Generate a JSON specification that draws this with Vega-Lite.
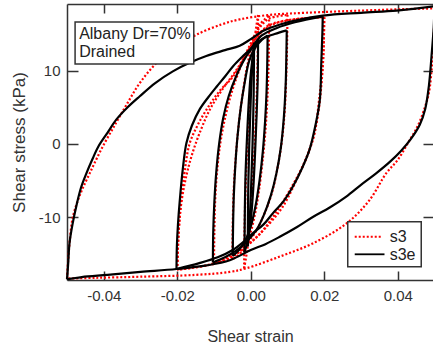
{
  "$schema": "https://vega.github.io/schema/vega-lite/v6.json",
  "width": 366,
  "height": 276,
  "autosize": {"type": "none"},
  "padding": {"left": 67, "top": 4, "right": 0, "bottom": 67},
  "config": {
    "view": {"stroke": null},
    "locale": {"number": {"decimal": ".", "thousands": ",", "grouping": [3], "currency": ["$", ""], "minus": "-"}},
    "axis": {
      "grid": false,
      "domainColor": "#333",
      "domainWidth": 1.5,
      "tickColor": "#333",
      "tickWidth": 1.5,
      "labelFont": "Liberation Sans",
      "labelFontSize": 15,
      "labelColor": "#333",
      "titleFont": "Liberation Sans",
      "titleFontWeight": "normal",
      "titleColor": "#333"
    },
    "text": {"font": "Liberation Sans"}
  },
  "datasets": {
    "s3e": [
      {"l":"b50u","i":0,"x":-0.05,"y":-18.5},{"l":"b50u","i":1,"x":-0.0497,"y":-16.5},{"l":"b50u","i":2,"x":-0.0493,"y":-13.5},{"l":"b50u","i":3,"x":-0.0485,"y":-11},{"l":"b50u","i":4,"x":-0.0475,"y":-8.6},{"l":"b50u","i":5,"x":-0.0462,"y":-6},{"l":"b50u","i":6,"x":-0.0447,"y":-4},{"l":"b50u","i":7,"x":-0.043,"y":-2},{"l":"b50u","i":8,"x":-0.0415,"y":-0.4},{"l":"b50u","i":9,"x":-0.039,"y":1.5},{"l":"b50u","i":10,"x":-0.0366,"y":3.3},{"l":"b50u","i":11,"x":-0.0335,"y":5},{"l":"b50u","i":12,"x":-0.0302,"y":6.5},{"l":"b50u","i":13,"x":-0.026,"y":8.3},{"l":"b50u","i":14,"x":-0.0212,"y":9.9},{"l":"b50u","i":15,"x":-0.0165,"y":11.1},{"l":"b50u","i":16,"x":-0.0121,"y":12},{"l":"b50u","i":17,"x":-0.007,"y":12.8},{"l":"b50u","i":18,"x":-0.003,"y":13.4},{"l":"b50u","i":19,"x":0,"y":14.3},{"l":"b50u","i":20,"x":0.0033,"y":15.4},{"l":"b50u","i":21,"x":0.008,"y":16.3},{"l":"b50u","i":22,"x":0.0196,"y":17.5},{"l":"b50u","i":23,"x":0.03,"y":17.9},{"l":"b50u","i":24,"x":0.0397,"y":18.2},{"l":"b50u","i":25,"x":0.0487,"y":18.7},{"l":"b50u","i":26,"x":0.05,"y":18.8},
      {"l":"b50d","i":26,"x":0.05,"y":18.8},{"l":"b50d","i":27,"x":0.0498,"y":16},{"l":"b50d","i":28,"x":0.0492,"y":12},{"l":"b50d","i":29,"x":0.0485,"y":8},{"l":"b50d","i":30,"x":0.0475,"y":4.8},{"l":"b50d","i":31,"x":0.046,"y":2.6},{"l":"b50d","i":32,"x":0.0435,"y":0.6},{"l":"b50d","i":33,"x":0.041,"y":-0.9},{"l":"b50d","i":34,"x":0.038,"y":-2.4},{"l":"b50d","i":35,"x":0.0342,"y":-4},{"l":"b50d","i":36,"x":0.03,"y":-5.6},{"l":"b50d","i":37,"x":0.026,"y":-7.2},{"l":"b50d","i":38,"x":0.0215,"y":-8.7},{"l":"b50d","i":39,"x":0.0169,"y":-10},{"l":"b50d","i":40,"x":0.0125,"y":-11.4},{"l":"b50d","i":41,"x":0.0079,"y":-12.7},{"l":"b50d","i":42,"x":0.004,"y":-13.7},{"l":"b50d","i":43,"x":0,"y":-14.5},{"l":"b50d","i":44,"x":-0.0057,"y":-15.9},{"l":"b50d","i":45,"x":-0.012,"y":-16.6},{"l":"b50d","i":46,"x":-0.0202,"y":-17.1},{"l":"b50d","i":47,"x":-0.03,"y":-17.5},{"l":"b50d","i":48,"x":-0.039,"y":-17.9},{"l":"b50d","i":49,"x":-0.046,"y":-18.2},{"l":"b50d","i":50,"x":-0.05,"y":-18.5},
      {"l":"b20u","i":0,"x":-0.0202,"y":-17.1},{"l":"b20u","i":1,"x":-0.0201,"y":-14},{"l":"b20u","i":2,"x":-0.0198,"y":-11},{"l":"b20u","i":3,"x":-0.0193,"y":-7.7},{"l":"b20u","i":4,"x":-0.0185,"y":-3.5},{"l":"b20u","i":5,"x":-0.0175,"y":0.1},{"l":"b20u","i":6,"x":-0.016,"y":2.5},{"l":"b20u","i":7,"x":-0.0139,"y":4.7},{"l":"b20u","i":8,"x":-0.0115,"y":6.4},{"l":"b20u","i":9,"x":-0.0093,"y":7.8},{"l":"b20u","i":10,"x":-0.007,"y":9.2},{"l":"b20u","i":11,"x":-0.0048,"y":10.6},{"l":"b20u","i":12,"x":-0.0025,"y":11.8},{"l":"b20u","i":13,"x":0,"y":13},{"l":"b20u","i":14,"x":0.003,"y":14.8},{"l":"b20u","i":15,"x":0.007,"y":15.8},{"l":"b20u","i":16,"x":0.012,"y":16.6},{"l":"b20u","i":17,"x":0.0196,"y":17.4},
      {"l":"b20d","i":17,"x":0.0196,"y":17.4},{"l":"b20d","i":18,"x":0.0195,"y":15.2},{"l":"b20d","i":19,"x":0.0192,"y":11},{"l":"b20d","i":20,"x":0.0188,"y":6},{"l":"b20d","i":21,"x":0.0176,"y":2.5},{"l":"b20d","i":22,"x":0.016,"y":-0.8},{"l":"b20d","i":23,"x":0.014,"y":-3.3},{"l":"b20d","i":24,"x":0.0115,"y":-5.8},{"l":"b20d","i":25,"x":0.009,"y":-7.8},{"l":"b20d","i":26,"x":0.006,"y":-9.5},{"l":"b20d","i":27,"x":0.0035,"y":-11},{"l":"b20d","i":28,"x":0.0006,"y":-12.2},{"l":"b20d","i":29,"x":-0.002,"y":-13.4},{"l":"b20d","i":30,"x":-0.0049,"y":-14.5},{"l":"b20d","i":31,"x":-0.009,"y":-15.5},{"l":"b20d","i":32,"x":-0.014,"y":-16.3},{"l":"b20d","i":33,"x":-0.0202,"y":-17.1},
      {"l":"b10u","i":0,"x":-0.0103,"y":-16.2},{"l":"b10u","i":1,"x":-0.0102,"y":-12},{"l":"b10u","i":2,"x":-0.0099,"y":-8},{"l":"b10u","i":3,"x":-0.0094,"y":-4},{"l":"b10u","i":4,"x":-0.0086,"y":0},{"l":"b10u","i":5,"x":-0.0075,"y":3.5},{"l":"b10u","i":6,"x":-0.006,"y":6.5},{"l":"b10u","i":7,"x":-0.004,"y":9.2},{"l":"b10u","i":8,"x":-0.002,"y":11.3},{"l":"b10u","i":9,"x":0,"y":12.8},{"l":"b10u","i":10,"x":0.003,"y":14.3},{"l":"b10u","i":11,"x":0.0065,"y":15},{"l":"b10u","i":12,"x":0.0098,"y":15.5},
      {"l":"b10d","i":12,"x":0.0098,"y":15.5},{"l":"b10d","i":13,"x":0.0097,"y":12},{"l":"b10d","i":14,"x":0.0095,"y":8},{"l":"b10d","i":15,"x":0.009,"y":3.5},{"l":"b10d","i":16,"x":0.0082,"y":-0.5},{"l":"b10d","i":17,"x":0.007,"y":-4},{"l":"b10d","i":18,"x":0.0055,"y":-7},{"l":"b10d","i":19,"x":0.0035,"y":-9.8},{"l":"b10d","i":20,"x":0.0015,"y":-11.8},{"l":"b10d","i":21,"x":-0.001,"y":-13.3},{"l":"b10d","i":22,"x":-0.004,"y":-14.6},{"l":"b10d","i":23,"x":-0.007,"y":-15.5},{"l":"b10d","i":24,"x":-0.0103,"y":-16.2},
      {"l":"b5u","i":0,"x":-0.0049,"y":-15.3},{"l":"b5u","i":1,"x":-0.0048,"y":-11},{"l":"b5u","i":2,"x":-0.0046,"y":-7},{"l":"b5u","i":3,"x":-0.0042,"y":-3},{"l":"b5u","i":4,"x":-0.0036,"y":1},{"l":"b5u","i":5,"x":-0.0027,"y":5},{"l":"b5u","i":6,"x":-0.0016,"y":8.5},{"l":"b5u","i":7,"x":-0.0005,"y":11.2},{"l":"b5u","i":8,"x":0.001,"y":13},{"l":"b5u","i":9,"x":0.003,"y":14.2},{"l":"b5u","i":10,"x":0.0046,"y":14.8},
      {"l":"b5d","i":10,"x":0.0046,"y":14.8},{"l":"b5d","i":11,"x":0.0045,"y":11},{"l":"b5d","i":12,"x":0.0043,"y":7},{"l":"b5d","i":13,"x":0.0039,"y":3},{"l":"b5d","i":14,"x":0.0033,"y":-1},{"l":"b5d","i":15,"x":0.0024,"y":-5},{"l":"b5d","i":16,"x":0.0013,"y":-8.5},{"l":"b5d","i":17,"x":0,"y":-11.3},{"l":"b5d","i":18,"x":-0.0015,"y":-13.2},{"l":"b5d","i":19,"x":-0.0032,"y":-14.5},{"l":"b5d","i":20,"x":-0.0049,"y":-15.3},
      {"l":"b2u","i":0,"x":-0.0017,"y":-14.8},{"l":"b2u","i":1,"x":-0.0016,"y":-9},{"l":"b2u","i":2,"x":-0.0014,"y":-4},{"l":"b2u","i":3,"x":-0.001,"y":1},{"l":"b2u","i":4,"x":-0.0005,"y":6},{"l":"b2u","i":5,"x":0,"y":9.5},{"l":"b2u","i":6,"x":0.0008,"y":12.5},{"l":"b2u","i":7,"x":0.002,"y":14.3},
      {"l":"b2d","i":7,"x":0.002,"y":14.3},{"l":"b2d","i":8,"x":0.0019,"y":9},{"l":"b2d","i":9,"x":0.0016,"y":4},{"l":"b2d","i":10,"x":0.0012,"y":-1},{"l":"b2d","i":11,"x":0.0007,"y":-6},{"l":"b2d","i":12,"x":0.0001,"y":-10},{"l":"b2d","i":13,"x":-0.0007,"y":-13},{"l":"b2d","i":14,"x":-0.0017,"y":-14.8},
      {"l":"b1u","i":0,"x":-0.0008,"y":-14},{"l":"b1u","i":1,"x":-0.0007,"y":-7},{"l":"b1u","i":2,"x":-0.0004,"y":0},{"l":"b1u","i":3,"x":0,"y":6},{"l":"b1u","i":4,"x":0.0004,"y":10.5},{"l":"b1u","i":5,"x":0.0009,"y":13.8},
      {"l":"b1d","i":5,"x":0.0009,"y":13.8},{"l":"b1d","i":6,"x":0.0008,"y":7},{"l":"b1d","i":7,"x":0.0005,"y":0},{"l":"b1d","i":8,"x":0.0001,"y":-6},{"l":"b1d","i":9,"x":-0.0003,"y":-10.5},{"l":"b1d","i":10,"x":-0.0008,"y":-14}
    ],
    "s3": [
      {"l":"r50u","i":0,"x":-0.05,"y":-18.4},{"l":"r50u","i":1,"x":-0.0497,"y":-16},{"l":"r50u","i":2,"x":-0.0492,"y":-13},{"l":"r50u","i":3,"x":-0.0484,"y":-10},{"l":"r50u","i":4,"x":-0.0465,"y":-7},{"l":"r50u","i":5,"x":-0.0438,"y":-4},{"l":"r50u","i":6,"x":-0.0403,"y":-0.4},{"l":"r50u","i":7,"x":-0.0366,"y":2.9},{"l":"r50u","i":8,"x":-0.0335,"y":5.6},{"l":"r50u","i":9,"x":-0.0302,"y":8.3},{"l":"r50u","i":10,"x":-0.0257,"y":11},{"l":"r50u","i":11,"x":-0.02,"y":13.2},{"l":"r50u","i":12,"x":-0.0148,"y":14.9},{"l":"r50u","i":13,"x":-0.008,"y":16.3},{"l":"r50u","i":14,"x":-0.003,"y":17},{"l":"r50u","i":15,"x":0.005,"y":17.6},{"l":"r50u","i":16,"x":0.015,"y":17.9},{"l":"r50u","i":17,"x":0.03,"y":18.2},{"l":"r50u","i":18,"x":0.042,"y":18.4},{"l":"r50u","i":19,"x":0.05,"y":18.5},
      {"l":"r50d","i":19,"x":0.05,"y":18.5},{"l":"r50d","i":20,"x":0.0499,"y":16},{"l":"r50d","i":21,"x":0.0496,"y":13},{"l":"r50d","i":22,"x":0.0492,"y":10},{"l":"r50d","i":23,"x":0.0485,"y":7},{"l":"r50d","i":24,"x":0.0474,"y":5},{"l":"r50d","i":25,"x":0.0455,"y":2.5},{"l":"r50d","i":26,"x":0.043,"y":0.3},{"l":"r50d","i":27,"x":0.04,"y":-2.2},{"l":"r50d","i":28,"x":0.0369,"y":-4},{"l":"r50d","i":29,"x":0.0323,"y":-7.7},{"l":"r50d","i":30,"x":0.026,"y":-10.9},{"l":"r50d","i":31,"x":0.0169,"y":-13.6},{"l":"r50d","i":32,"x":0.0079,"y":-15.4},{"l":"r50d","i":33,"x":-0.0012,"y":-17},{"l":"r50d","i":34,"x":-0.0057,"y":-17.5},{"l":"r50d","i":35,"x":-0.015,"y":-17.9},{"l":"r50d","i":36,"x":-0.03,"y":-18.15},{"l":"r50d","i":37,"x":-0.042,"y":-18.3},{"l":"r50d","i":38,"x":-0.05,"y":-18.4},
      {"l":"r20u","i":0,"x":-0.02,"y":-17.2},{"l":"r20u","i":1,"x":-0.0198,"y":-14},{"l":"r20u","i":2,"x":-0.0194,"y":-10.5},{"l":"r20u","i":3,"x":-0.0189,"y":-7.7},{"l":"r20u","i":4,"x":-0.0178,"y":-3.1},{"l":"r20u","i":5,"x":-0.0166,"y":0.1},{"l":"r20u","i":6,"x":-0.0145,"y":2.5},{"l":"r20u","i":7,"x":-0.012,"y":4.7},{"l":"r20u","i":8,"x":-0.0085,"y":7.2},{"l":"r20u","i":9,"x":-0.0048,"y":9.2},{"l":"r20u","i":10,"x":-0.002,"y":11.5},{"l":"r20u","i":11,"x":0.0006,"y":13.8},{"l":"r20u","i":12,"x":0.0043,"y":16},{"l":"r20u","i":13,"x":0.01,"y":16.9},{"l":"r20u","i":14,"x":0.02,"y":17.3},
      {"l":"r20d","i":14,"x":0.02,"y":17.3},{"l":"r20d","i":15,"x":0.0199,"y":14},{"l":"r20d","i":16,"x":0.0196,"y":10.6},{"l":"r20d","i":17,"x":0.0186,"y":6},{"l":"r20d","i":18,"x":0.0174,"y":1.5},{"l":"r20d","i":19,"x":0.0155,"y":-1.5},{"l":"r20d","i":20,"x":0.0133,"y":-4},{"l":"r20d","i":21,"x":0.0087,"y":-8.6},{"l":"r20d","i":22,"x":0.004,"y":-11.5},{"l":"r20d","i":23,"x":0.0006,"y":-13.2},{"l":"r20d","i":24,"x":-0.0049,"y":-15.4},{"l":"r20d","i":25,"x":-0.01,"y":-16.4},{"l":"r20d","i":26,"x":-0.02,"y":-17.2},
      {"l":"r21u","i":0,"x":-0.02,"y":-17.2},{"l":"r21u","i":1,"x":-0.0196,"y":-12},{"l":"r21u","i":2,"x":-0.019,"y":-8.5},{"l":"r21u","i":3,"x":-0.0178,"y":-5},{"l":"r21u","i":4,"x":-0.016,"y":-1.5},{"l":"r21u","i":5,"x":-0.0135,"y":2},{"l":"r21u","i":6,"x":-0.011,"y":4.8},{"l":"r21u","i":7,"x":-0.0075,"y":7.6},{"l":"r21u","i":8,"x":-0.004,"y":10},{"l":"r21u","i":9,"x":-0.001,"y":12.5},{"l":"r21u","i":10,"x":0.002,"y":14.8},{"l":"r21u","i":11,"x":0.006,"y":16.3},{"l":"r21u","i":12,"x":0.012,"y":17},{"l":"r21u","i":13,"x":0.02,"y":17.3},
      {"l":"r21d","i":13,"x":0.02,"y":17.3},{"l":"r21d","i":14,"x":0.0198,"y":13},{"l":"r21d","i":15,"x":0.0193,"y":8.5},{"l":"r21d","i":16,"x":0.0183,"y":4},{"l":"r21d","i":17,"x":0.0165,"y":0},{"l":"r21d","i":18,"x":0.014,"y":-3.2},{"l":"r21d","i":19,"x":0.011,"y":-6},{"l":"r21d","i":20,"x":0.007,"y":-9.3},{"l":"r21d","i":21,"x":0.003,"y":-12},{"l":"r21d","i":22,"x":-0.001,"y":-13.9},{"l":"r21d","i":23,"x":-0.006,"y":-15.6},{"l":"r21d","i":24,"x":-0.012,"y":-16.6},{"l":"r21d","i":25,"x":-0.02,"y":-17.2},
      {"l":"r10u","i":0,"x":-0.01,"y":-16.3},{"l":"r10u","i":1,"x":-0.0099,"y":-12},{"l":"r10u","i":2,"x":-0.0097,"y":-8},{"l":"r10u","i":3,"x":-0.0092,"y":-4},{"l":"r10u","i":4,"x":-0.0083,"y":0},{"l":"r10u","i":5,"x":-0.007,"y":3.5},{"l":"r10u","i":6,"x":-0.0052,"y":7},{"l":"r10u","i":7,"x":-0.003,"y":10.2},{"l":"r10u","i":8,"x":-0.0005,"y":13.2},{"l":"r10u","i":9,"x":0.002,"y":15.6},{"l":"r10u","i":10,"x":0.005,"y":17.1},{"l":"r10u","i":11,"x":0.01,"y":17.6},
      {"l":"r10d","i":11,"x":0.01,"y":17.6},{"l":"r10d","i":12,"x":0.0099,"y":14},{"l":"r10d","i":13,"x":0.0097,"y":10},{"l":"r10d","i":14,"x":0.0093,"y":5},{"l":"r10d","i":15,"x":0.0086,"y":1},{"l":"r10d","i":16,"x":0.0074,"y":-3},{"l":"r10d","i":17,"x":0.0057,"y":-6.8},{"l":"r10d","i":18,"x":0.0035,"y":-9.8},{"l":"r10d","i":19,"x":0.001,"y":-12.3},{"l":"r10d","i":20,"x":-0.002,"y":-14},{"l":"r10d","i":21,"x":-0.006,"y":-15.4},{"l":"r10d","i":22,"x":-0.01,"y":-16.3},
      {"l":"r5u","i":0,"x":-0.005,"y":-15.8},{"l":"r5u","i":1,"x":-0.0049,"y":-11},{"l":"r5u","i":2,"x":-0.0046,"y":-6},{"l":"r5u","i":3,"x":-0.0041,"y":-2},{"l":"r5u","i":4,"x":-0.0033,"y":2.5},{"l":"r5u","i":5,"x":-0.0022,"y":6.8},{"l":"r5u","i":6,"x":-0.001,"y":10.5},{"l":"r5u","i":7,"x":0.0005,"y":13.8},{"l":"r5u","i":8,"x":0.0025,"y":16.3},{"l":"r5u","i":9,"x":0.005,"y":17.5},
      {"l":"r5d","i":9,"x":0.005,"y":17.5},{"l":"r5d","i":10,"x":0.0049,"y":12},{"l":"r5d","i":11,"x":0.0046,"y":7},{"l":"r5d","i":12,"x":0.0041,"y":2.5},{"l":"r5d","i":13,"x":0.0033,"y":-2},{"l":"r5d","i":14,"x":0.0022,"y":-6.5},{"l":"r5d","i":15,"x":0.001,"y":-10},{"l":"r5d","i":16,"x":-0.0005,"y":-12.8},{"l":"r5d","i":17,"x":-0.0025,"y":-14.8},{"l":"r5d","i":18,"x":-0.005,"y":-15.8},
      {"l":"r2u","i":0,"x":-0.0018,"y":-17},{"l":"r2u","i":1,"x":-0.0017,"y":-12},{"l":"r2u","i":2,"x":-0.0014,"y":-6},{"l":"r2u","i":3,"x":-0.001,"y":-1},{"l":"r2u","i":4,"x":-0.0004,"y":5},{"l":"r2u","i":5,"x":0.0003,"y":10},{"l":"r2u","i":6,"x":0.0011,"y":14.5},{"l":"r2u","i":7,"x":0.002,"y":17.6},
      {"l":"r2d","i":7,"x":0.002,"y":17.6},{"l":"r2d","i":8,"x":0.0019,"y":12},{"l":"r2d","i":9,"x":0.0016,"y":6},{"l":"r2d","i":10,"x":0.0012,"y":1},{"l":"r2d","i":11,"x":0.0006,"y":-5},{"l":"r2d","i":12,"x":-0.0001,"y":-10},{"l":"r2d","i":13,"x":-0.0009,"y":-14.3},{"l":"r2d","i":14,"x":-0.0018,"y":-17}
    ]
  },
  "layer": [
    {
      "data": {"name": "s3"},
      "mark": {"type": "line", "color": "#ff0000", "strokeWidth": 2.2, "strokeDash": [2, 2], "interpolate": "catmull-rom"},
      "encoding": {
        "x": {"field": "x", "type": "quantitative", "scale": {"domain": [-0.05, 0.0496], "nice": false, "zero": false},
              "axis": {"orient": "top", "values": [-0.04, -0.02, 0, 0.02, 0.04], "labels": false, "title": null, "tickSize": -9, "domain": true}},
        "y": {"field": "y", "type": "quantitative", "scale": {"domain": [-18.6, 19.1], "nice": false, "zero": false},
              "axis": {"orient": "right", "values": [-10, 0, 10], "labels": false, "title": null, "tickSize": -10, "domain": false}},
        "detail": {"field": "l"},
        "order": {"field": "i", "type": "quantitative"}
      }
    },
    {
      "data": {"name": "s3e"},
      "mark": {"type": "line", "color": "#000000", "strokeWidth": 2.2, "interpolate": "catmull-rom"},
      "encoding": {
        "x": {"field": "x", "type": "quantitative", "scale": {"domain": [-0.05, 0.0496], "nice": false, "zero": false},
              "axis": {"orient": "bottom", "values": [-0.04, -0.02, 0, 0.02, 0.04], "format": ".2f", "title": "Shear strain", "titleFontSize": 16, "titlePadding": 25, "tickSize": -9, "labelPadding": 17, "domain": true}},
        "y": {"field": "y", "type": "quantitative", "scale": {"domain": [-18.6, 19.1], "nice": false, "zero": false},
              "axis": {"orient": "left", "values": [-10, 0, 10], "title": "Shear stress (kPa)", "titleFontSize": 17, "titlePadding": 10, "tickSize": -11, "labelPadding": 18, "domain": true}},
        "detail": {"field": "l"},
        "order": {"field": "i", "type": "quantitative"}
      }
    },
    {
      "data": {"values": [{"x1": -0.0478, "x2": -0.0155, "y1": 10.9, "y2": 16.64}]},
      "mark": {"type": "rect", "fill": "white", "stroke": "#333", "strokeWidth": 1.5},
      "encoding": {
        "x": {"field": "x1", "type": "quantitative", "scale": {"domain": [-0.05, 0.0496], "nice": false, "zero": false}, "axis": null},
        "x2": {"field": "x2"},
        "y": {"field": "y1", "type": "quantitative", "scale": {"domain": [-18.6, 19.1], "nice": false, "zero": false}, "axis": null},
        "y2": {"field": "y2"}
      }
    },
    {
      "data": {"values": [{"x": -0.0467, "y": 15.0, "t": "Albany Dr=70%"}, {"x": -0.0467, "y": 12.54, "t": "Drained"}]},
      "mark": {"type": "text", "align": "left", "baseline": "middle", "fontSize": 16, "color": "#222"},
      "encoding": {
        "x": {"field": "x", "type": "quantitative", "scale": {"domain": [-0.05, 0.0496], "nice": false, "zero": false}, "axis": null},
        "y": {"field": "y", "type": "quantitative", "scale": {"domain": [-18.6, 19.1], "nice": false, "zero": false}, "axis": null},
        "text": {"field": "t"}
      }
    },
    {
      "data": {"values": [{"x1": 0.0264, "x2": 0.0464, "y1": -16.78, "y2": -10.64}]},
      "mark": {"type": "rect", "fill": "white", "stroke": "#333", "strokeWidth": 1.5},
      "encoding": {
        "x": {"field": "x1", "type": "quantitative", "scale": {"domain": [-0.05, 0.0496], "nice": false, "zero": false}, "axis": null},
        "x2": {"field": "x2"},
        "y": {"field": "y1", "type": "quantitative", "scale": {"domain": [-18.6, 19.1], "nice": false, "zero": false}, "axis": null},
        "y2": {"field": "y2"}
      }
    },
    {
      "data": {"values": [{"x1": 0.0283, "x2": 0.0359, "y": -12.69}]},
      "mark": {"type": "rule", "color": "#ff0000", "strokeWidth": 2.2, "strokeDash": [2, 2]},
      "encoding": {
        "x": {"field": "x1", "type": "quantitative", "scale": {"domain": [-0.05, 0.0496], "nice": false, "zero": false}, "axis": null},
        "x2": {"field": "x2"},
        "y": {"field": "y", "type": "quantitative", "scale": {"domain": [-18.6, 19.1], "nice": false, "zero": false}, "axis": null}
      }
    },
    {
      "data": {"values": [{"x1": 0.0283, "x2": 0.0364, "y": -15.09}]},
      "mark": {"type": "rule", "color": "#000000", "strokeWidth": 1.8},
      "encoding": {
        "x": {"field": "x1", "type": "quantitative", "scale": {"domain": [-0.05, 0.0496], "nice": false, "zero": false}, "axis": null},
        "x2": {"field": "x2"},
        "y": {"field": "y", "type": "quantitative", "scale": {"domain": [-18.6, 19.1], "nice": false, "zero": false}, "axis": null}
      }
    },
    {
      "data": {"values": [{"x": 0.0378, "y": -12.73, "t": "s3"}, {"x": 0.0378, "y": -15.12, "t": "s3e"}]},
      "mark": {"type": "text", "align": "left", "baseline": "middle", "fontSize": 16, "color": "#222"},
      "encoding": {
        "x": {"field": "x", "type": "quantitative", "scale": {"domain": [-0.05, 0.0496], "nice": false, "zero": false}, "axis": null},
        "y": {"field": "y", "type": "quantitative", "scale": {"domain": [-18.6, 19.1], "nice": false, "zero": false}, "axis": null},
        "text": {"field": "t"}
      }
    }
  ]
}
